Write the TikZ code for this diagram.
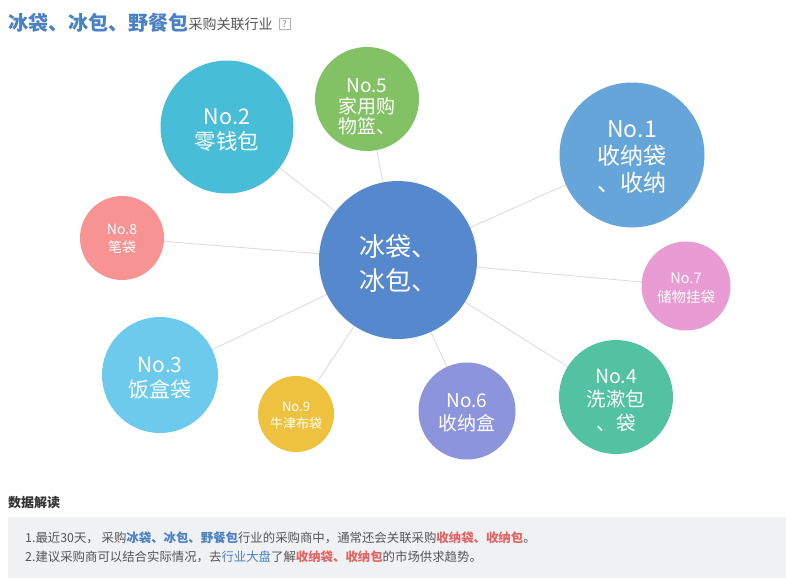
\documentclass[tikz,border=0pt]{standalone}
\usepackage{fontspec}
\setmainfont{Noto Sans CJK SC}
\usetikzlibrary{backgrounds}
\definecolor{cMain}{HTML}{5588CC}
\definecolor{cOne}{HTML}{66A5DA}
\definecolor{cTwo}{HTML}{47BDD7}
\definecolor{cThree}{HTML}{6CCAEC}
\definecolor{cFour}{HTML}{52C2A2}
\definecolor{cFive}{HTML}{82C265}
\definecolor{cSix}{HTML}{8C94DC}
\definecolor{cSeven}{HTML}{E99BD3}
\definecolor{cEight}{HTML}{F79392}
\definecolor{cNine}{HTML}{EEC23E}
\definecolor{tBlue}{HTML}{4A80C4}
\definecolor{tRed}{HTML}{E26464}
\definecolor{tGray}{HTML}{555555}
\definecolor{boxGray}{HTML}{F0F1F3}
\definecolor{linkGray}{HTML}{DDDDDD}
\tikzset{
  bubble/.style={circle, inner sep=0pt, minimum size=#1},
  btext/.style={inner sep=0pt, text=white, align=center},
  link/.style={draw=linkGray, line width=0.9pt},
}
\begin{document}
\begin{tikzpicture}[x=1pt,y=-1pt]
\useasboundingbox (0,0) rectangle (786,578);
% title
\node[anchor=west, inner sep=0pt, text=tBlue, font=\fontsize{20}{22}\selectfont\bfseries] (title) at (8,23) {冰袋、冰包、野餐包};
\node[anchor=west, inner sep=0pt, text=tGray, font=\fontsize{14}{16}\selectfont] (sub) at ([yshift=-1pt]title.east) {采购关联行业};
\node[draw=gray!60, fill=white, text=gray, inner sep=0pt, minimum size=11pt, font=\fontsize{9}{10}\selectfont, anchor=west] (help) at ([xshift=6pt]sub.east) {?};
% bubbles
\node[bubble=158pt, fill=cMain] (c) at (398,260) {};
\node[btext, font=\fontsize{26}{34}\selectfont] (ct) at (398,264) {冰袋、\\冰包、};
\node[bubble=145pt, fill=cOne] (n1) at (632,155) {};
\node[btext, font=\fontsize{23}{27}\selectfont] (n1t) at (632,157) {No.1\\收纳袋\\、收纳};
\node[bubble=133pt, fill=cTwo] (n2) at (227,127) {};
\node[btext, font=\fontsize{21.5}{25}\selectfont] (n2t) at (227,130) {No.2\\零钱包};
\node[bubble=116pt, fill=cThree] (n3) at (160,375) {};
\node[btext, font=\fontsize{21}{25}\selectfont] (n3t) at (160,378) {No.3\\饭盒袋};
\node[bubble=114pt, fill=cFour] (n4) at (616,397) {};
\node[btext, font=\fontsize{19.5}{23.5}\selectfont] (n4t) at (616,400) {No.4\\洗漱包\\、袋};
\node[bubble=104pt, fill=cFive] (n5) at (367,99) {};
\node[btext, font=\fontsize{19}{20.5}\selectfont] (n5t) at (367,107) {No.5\\家用购\\物篮、};
\node[bubble=97pt, fill=cSix] (n6) at (467,411) {};
\node[btext, font=\fontsize{19}{23.5}\selectfont] (n6t) at (467,413) {No.6\\收纳盒};
\node[bubble=89pt, fill=cSeven] (n7) at (686,286) {};
\node[btext, font=\fontsize{14.5}{19}\selectfont] (n7t) at (686,288) {No.7\\储物挂袋};
\node[bubble=84pt, fill=cEight] (n8) at (122,238) {};
\node[btext, font=\fontsize{14}{18}\selectfont] (n8t) at (122,239) {No.8\\笔袋};
\node[bubble=76pt, fill=cNine] (n9) at (296,414) {};
\node[btext, font=\fontsize{13}{17}\selectfont] (n9t) at (296,416) {No.9\\牛津布袋};
\begin{scope}[on background layer]
\fill[white] (0,0) rectangle (786,578);
\foreach \t in {n1,n2,n3,n4,n5,n6,n7,n8,n9} \draw[link] (c.center) -- (\t.center);
\end{scope}
% bottom
\node[anchor=west, inner sep=0pt, text=black!80, font=\fontsize{13}{15}\selectfont\bfseries] (hd) at (8,503) {数据解读};
\fill[boxGray] (8,517) rectangle (786,578);
\node[anchor=west, inner sep=0pt, text=tGray, font=\fontsize{12.4}{14}\selectfont] (l1) at (25,538) {1.最近30天， 采购\textcolor{tBlue}{\bfseries 冰袋、冰包、野餐包}行业的采购商中，通常还会关联采购\textcolor{tRed}{\bfseries 收纳袋、收纳包}。};
\node[anchor=west, inner sep=0pt, text=tGray, font=\fontsize{12.4}{14}\selectfont] (l2) at (25,557) {2.建议采购商可以结合实际情况，去\textcolor{tBlue}{行业大盘}了解\textcolor{tRed}{\bfseries 收纳袋、收纳包}的市场供求趋势。};
\end{tikzpicture}
\end{document}
